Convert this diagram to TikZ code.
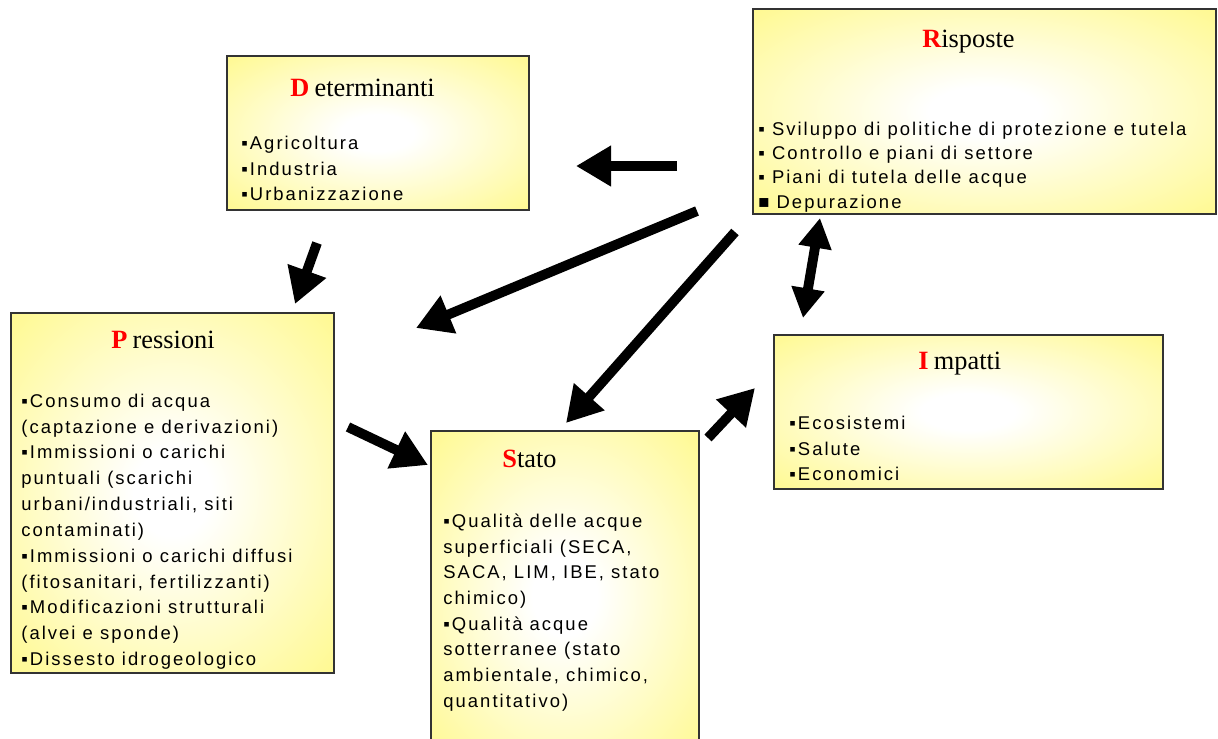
\documentclass[tikz,border=0pt]{standalone}
\usepackage{fontspec}
\setmainfont{Liberation Serif}
\newfontfamily\itemfont[LetterSpace=11]{Liberation Sans}
\usetikzlibrary{arrows.meta}

\definecolor{boxyellow}{RGB}{255,248,128}
\pgfdeclareradialshading{boxglow}{\pgfpoint{0bp}{0bp}}{%
  color(0bp)=(white); color(6bp)=(white); color(40bp)=(boxyellow); color(70bp)=(boxyellow)}
\newcommand{\pxu}{0.02cm}
% red initial + rest of the title
\newcommand{\ttl}[3][0pt]{{\color{red}\bfseries #2}\hspace{#1}#3}

\tikzset{
  dpsir/.style={draw=black!80, line width=0.9pt, shading=boxglow, anchor=north west, inner sep=0pt},
  boxtitle/.style={anchor=base west, inner sep=0pt, font=\fontsize{15}{18}\selectfont},
  boxlist/.style={anchor=north west, inner sep=0pt, align=left, font=\itemfont\fontsize{10.5}{#1}\selectfont},
  boxlist/.default=14.7pt,
  bigarrow/.style={-{Triangle[length=20pt, width=22pt]}, line width=5.6pt},
  dblarrow/.style={{Triangle[length=17pt, width=18pt]}-{Triangle[length=17pt, width=18pt]}, line width=5.6pt},
}

\begin{document}
\begin{tikzpicture}[x=0.02cm, y=-0.02cm]
\useasboundingbox (0,0) rectangle (1218,738);
\clip (0,0) rectangle (1218,738);

% boxes
\node[dpsir, minimum width=302*\pxu, minimum height=154*\pxu] (D) at (226,55) {};
\node[dpsir, minimum width=463*\pxu, minimum height=205*\pxu] (R) at (752,8) {};
\node[dpsir, minimum width=323*\pxu, minimum height=360*\pxu] (P) at (10,312) {};
\node[dpsir, minimum width=268*\pxu, minimum height=330*\pxu] (S) at (430,430) {};
\node[dpsir, minimum width=389*\pxu, minimum height=154*\pxu] (I) at (773,334) {};

% titles
\node[boxtitle] (Dtitle) at (290,96) {\ttl[3pt]{D}{eterminanti}};
\node[boxtitle] (Rtitle) at (922,47) {\ttl{R}{isposte}};
\node[boxtitle] (Ptitle) at (111,348) {\ttl[3pt]{P}{ressioni}};
\node[boxtitle] (Stitle) at (502,467) {\ttl{S}{tato}};
\node[boxtitle] (Ititle) at (918,369) {\ttl[3pt]{I}{mpatti}};

% lists
\node[boxlist] (Dlist) at (241,135.6) {▪Agricoltura\\▪Industria\\▪Urbanizzazione};
\node[boxlist=13.8pt] (Rlist) at (758,121.6) {▪ Sviluppo di politiche di protezione e tutela\\▪ Controllo e piani di settore\\▪ Piani di tutela delle acque\\■ Depurazione};
\node[boxlist] (Plist) at (21,393.6) {▪Consumo di acqua\\(captazione e derivazioni)\\▪Immissioni o carichi\\puntuali (scarichi\\urbani/industriali, siti\\contaminati)\\▪Immissioni o carichi diffusi\\(fitosanitari, fertilizzanti)\\▪Modificazioni strutturali\\(alvei e sponde)\\▪Dissesto idrogeologico};
\node[boxlist=14.6pt] (Slist) at (443,513.6) {▪Qualità delle acque\\superficiali (SECA,\\SACA, LIM, IBE, stato\\chimico)\\▪Qualità acque\\sotterranee (stato\\ambientale, chimico,\\quantitativo)};
\node[boxlist] (Ilist) at (789,415.6) {▪Ecosistemi\\▪Salute\\▪Economici};

% arrow ends
\coordinate (rd1) at (677,166);  \coordinate (rd2) at (576,166);
\coordinate (dp1) at (317,243);  \coordinate (dp2) at (295,304);
\coordinate (rp1) at (697,211);  \coordinate (rp2) at (416,328);
\coordinate (rs1) at (735,232);  \coordinate (rs2) at (566,423);
\coordinate (ps1) at (348,427);  \coordinate (ps2) at (428,465);
\coordinate (si1) at (708,438);  \coordinate (si2) at (755,388);
\coordinate (ri1) at (820,218);  \coordinate (ri2) at (803,318);

\draw[bigarrow] (rd1) -- (rd2);
\draw[bigarrow] (dp1) -- (dp2);
\draw[bigarrow] (rp1) -- (rp2);
\draw[bigarrow] (rs1) -- (rs2);
\draw[bigarrow] (ps1) -- (ps2);
\draw[bigarrow] (si1) -- (si2);
\draw[dblarrow] (ri1) -- (ri2);
\end{tikzpicture}
\end{document}
